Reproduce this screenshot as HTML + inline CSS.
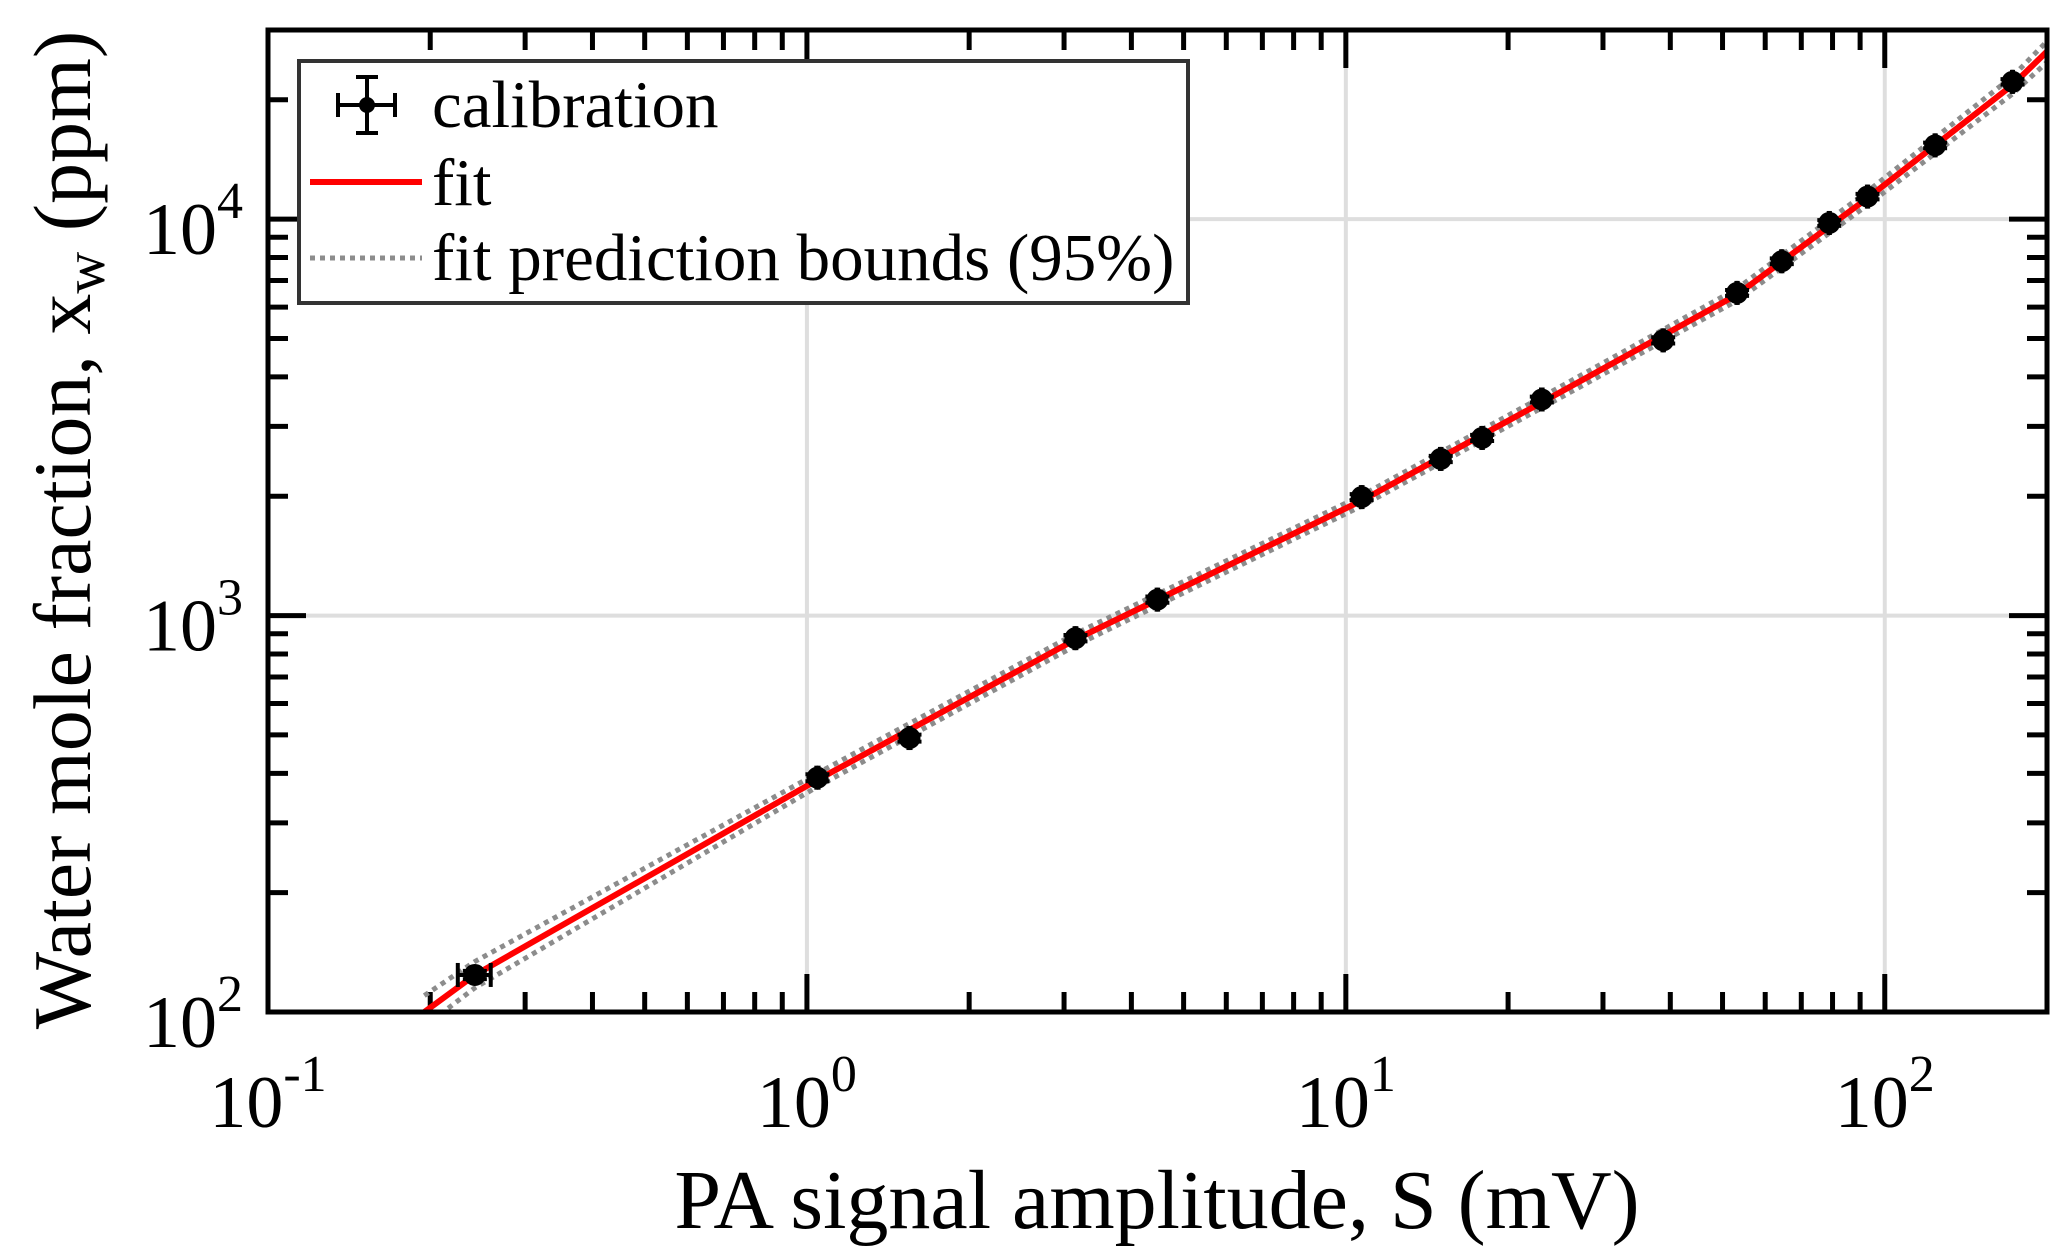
<!DOCTYPE html>
<html><head><meta charset="utf-8"><style>
html,body{margin:0;padding:0;background:#fff;}
svg{display:block;font-family:"Liberation Serif",serif;}
</style></head><body>
<svg id="chart" width="2067" height="1259" viewBox="0 0 2067 1259" xmlns="http://www.w3.org/2000/svg"></svg>
<script>
const dataX = [0.242,1.046,1.55,3.15,4.47,10.7,15.0,17.9,23.1,38.8,53.2,64.4,78.9,92.9,124,172.6];
const dataY = [124,390,491,877,1097,1990,2484,2806,3508,4946,6515,7830,9780,11400,15350,22200];
const dataXErr = [0.017,0.005,0.007,0.012,0.015,0.04,0.05,0.06,0.08,0.12,0.15,0.18,0.2,0.25,0.3,0.4];
const dataYErr = [3,8,10,16,20,35,45,50,60,90,110,130,160,180,250,350];
const fitX = [0.195,0.242,1.046,3.15,10.7,23.1,53.2,92.9,172.6,200];
const fitY = [100,124,385,870,1950,3450,6450,11300,21800,26500];
const upperY = [110,134,400,900,2010,3560,6680,11750,22900,28100];
const lowerY = [92,115,370,840,1890,3340,6230,10850,20700,24900];
const xTickExp = [-1,0,1,2];
const yTickExp = [2,3,4];

const L=268,R=2047,T=30,B=1012;
const xMin=Math.log10(0.1),xMax=Math.log10(200),yMin=2,yMax=Math.log10(30000);
const sx=v=>L+(Math.log10(v)-xMin)/(xMax-xMin)*(R-L);
const sy=v=>B-(Math.log10(v)-yMin)/(yMax-yMin)*(B-T);
const NS='http://www.w3.org/2000/svg';
const svg=document.getElementById('chart');
function mk(tag,attrs,parent){const e=document.createElementNS(NS,tag);for(const k in attrs)e.setAttribute(k,attrs[k]);(parent||svg).appendChild(e);return e;}

const defs=mk('defs',{});
const cp=mk('clipPath',{id:'pc'},defs);
mk('rect',{x:L,y:T,width:R-L,height:B-T},cp);

const grid=mk('g',{stroke:'#dedede','stroke-width':4});


xTickExp.forEach(e=>{const x=sx(Math.pow(10,e));if(x>L+2&&x<R-2)mk('line',{x1:x,x2:x,y1:T,y2:B},grid);});
yTickExp.forEach(e=>{const y=sy(Math.pow(10,e));if(y<B-2&&y>T+2)mk('line',{x1:L,x2:R,y1:y,y2:y},grid);});

const ticks=mk('g',{stroke:'#000','stroke-width':5});


for(let e=-1;e<=2;e++)for(let m=1;m<=9;m++){const v=m*Math.pow(10,e);if(v<0.1||v>200)continue;const x=sx(v);const len=m===1?38:20;
 mk('line',{x1:x,x2:x,y1:B,y2:B-len},ticks);mk('line',{x1:x,x2:x,y1:T,y2:T+len},ticks);}
for(let e=2;e<=4;e++)for(let m=1;m<=9;m++){const v=m*Math.pow(10,e);if(v<100||v>30000)continue;const y=sy(v);const len=m===1?38:20;
 mk('line',{x1:L,x2:L+len,y1:y,y2:y},ticks);mk('line',{x1:R,x2:R-len,y1:y,y2:y},ticks);}

const plot=mk('g',{'clip-path':'url(#pc)'});
function pts(xs,ys){return xs.map((x,i)=>sx(x).toFixed(1)+','+sy(ys[i]).toFixed(1)).join(' ');}
const ub=mk('polyline',{points:pts(fitX,upperY),fill:'none',stroke:'#8c8c8c','stroke-width':5,'stroke-dasharray':'5 5'},plot);


const lb=mk('polyline',{points:pts(fitX,lowerY),fill:'none',stroke:'#8c8c8c','stroke-width':5,'stroke-dasharray':'5 5'},plot);


const fl=mk('polyline',{points:pts(fitX,fitY),fill:'none',stroke:'#ff0000','stroke-width':6},plot);


dataX.forEach((x,i)=>{
 const g=mk('g',{stroke:'#000','stroke-width':4},plot);
 
 
 const cx=sx(x),cy=sy(dataY[i]);
 const x0=sx(x-dataXErr[i]),x1=sx(x+dataXErr[i]),y0=sy(dataY[i]-dataYErr[i]),y1=sy(dataY[i]+dataYErr[i]);
 mk('line',{x1:x0,x2:x1,y1:cy,y2:cy},g);
 mk('line',{x1:x0,x2:x0,y1:cy-12,y2:cy+12},g);mk('line',{x1:x1,x2:x1,y1:cy-12,y2:cy+12},g);
 mk('line',{x1:cx,x2:cx,y1:y0,y2:y1},g);
 mk('line',{x1:cx-12,x2:cx+12,y1:y0,y2:y0},g);mk('line',{x1:cx-12,x2:cx+12,y1:y1,y2:y1},g);
 mk('circle',{cx:cx,cy:cy,r:11,fill:'#000',stroke:'none'},g);
});

const fr=mk('rect',{x:L,y:T,width:R-L,height:B-T,fill:'none',stroke:'#000','stroke-width':5});



xTickExp.forEach(e=>{
 const t=mk('text',{x:sx(Math.pow(10,e)),y:1127,'text-anchor':'middle','font-size':74,fill:'#000'});
 
 
 t.appendChild(document.createTextNode('10'));
 const s=mk('tspan',{dy:-36,'font-size':52},t);s.textContent=String(e);
});
yTickExp.forEach(e=>{
 const t=mk('text',{x:243,y:sy(Math.pow(10,e))+35,'text-anchor':'end','font-size':74,fill:'#000'});
 
 
 t.appendChild(document.createTextNode('10'));
 const s=mk('tspan',{dy:-36,'font-size':52},t);s.textContent=String(e);
});
</script>
<svg style="position:absolute;left:0;top:0" width="2067" height="1259" viewBox="0 0 2067 1259" xmlns="http://www.w3.org/2000/svg" font-family="Liberation Serif, serif">
 <text x="1157" y="1228" text-anchor="middle" font-size="84">PA signal amplitude, S (mV)</text>
 <text transform="translate(90,530) rotate(-90)" text-anchor="middle" font-size="82">Water mole fraction, x<tspan font-size="58" dy="14">w</tspan><tspan dy="-14"> (ppm)</tspan></text>
 <g>
  <rect x="299" y="61" width="889" height="242" fill="#fff" stroke="#333" stroke-width="4"/>
  <g stroke="#000" stroke-width="4">
   <line x1="338" x2="395" y1="105" y2="105"/><line x1="338" x2="338" y1="93" y2="117"/><line x1="395" x2="395" y1="93" y2="117"/>
   <line x1="367" x2="367" y1="77" y2="133"/><line x1="356" x2="378" y1="77" y2="77"/><line x1="356" x2="378" y1="133" y2="133"/>
   <circle cx="367" cy="105" r="8" fill="#000" stroke="none"/>
  </g>
  <text x="432" y="127" font-size="67">calibration</text>
  <line x1="310" x2="422" y1="182" y2="182" stroke="#ff0000" stroke-width="6"/>
  <text x="432" y="205" font-size="67">fit</text>
  <line x1="310" x2="422" y1="258" y2="258" stroke="#8c8c8c" stroke-width="5" stroke-dasharray="5 5"/>
  <text x="432" y="280" font-size="67">fit prediction bounds (95%)</text>
 </g>
</svg>
</body></html>
